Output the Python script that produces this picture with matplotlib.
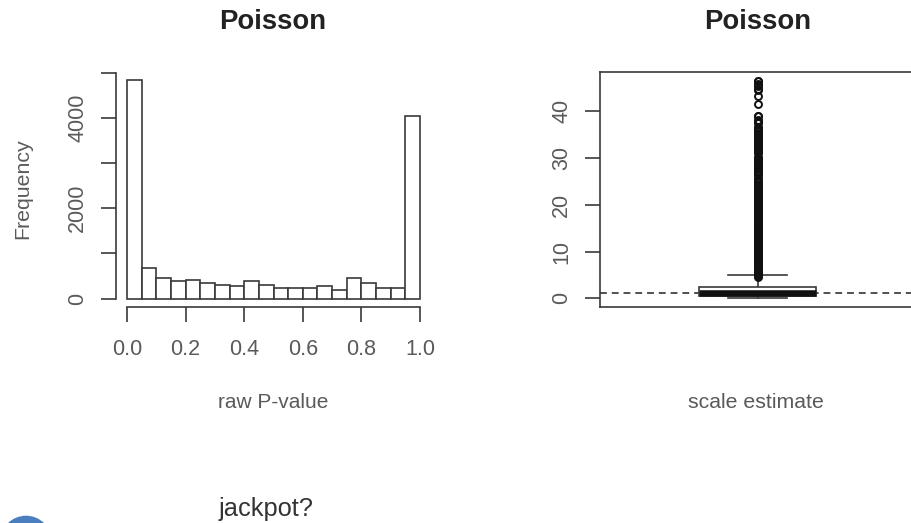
import matplotlib
matplotlib.use("Agg")
import matplotlib.pyplot as plt
from matplotlib.patches import Circle, Rectangle

plt.rcParams['font.family'] = ['Liberation Sans', 'DejaVu Sans']

W, H = 911, 523

# histogram of raw p-values
bin_edges = [0.0, 0.05, 0.1, 0.15, 0.2, 0.25, 0.3, 0.35, 0.4, 0.45, 0.5,
             0.55, 0.6, 0.65, 0.7, 0.75, 0.8, 0.85, 0.9, 0.95, 1.0]
counts = [4834, 687, 458, 377, 414, 340, 303, 266, 377, 303,
          222, 222, 222, 266, 192, 458, 340, 222, 222, 4035]
hist_yticks = [0, 1000, 2000, 3000, 4000, 5000]
hist_ylabels = ['0', '', '2000', '', '4000', '']
hist_xticks = [0.0, 0.2, 0.4, 0.6, 0.8, 1.0]

# scale estimate box plot
box_q1 = 0.5
box_median = 1.2
box_q3 = 2.5
whisker_low = 0.0
whisker_high = 5.0
ref_line = 1.07
outliers = [4.55, 4.8, 5.0, 5.3, 5.5, 5.8, 6.0, 6.3, 6.5, 6.8, 7.0, 7.3, 7.5, 7.8,
            8.0, 8.3, 8.5, 8.8, 9.0, 9.3, 9.5, 9.8, 10.0, 10.3, 10.5, 10.8, 11.0,
            11.3, 11.5, 11.8, 12.0, 12.3, 12.5, 12.8, 13.0, 13.3, 13.5, 13.8, 14.0,
            14.3, 14.5, 14.8, 15.0, 15.3, 15.5, 15.8, 16.0, 16.3, 16.5, 16.8, 17.0,
            17.3, 17.5, 17.8, 18.0, 18.3, 18.5, 18.8, 19.0, 19.3, 19.5, 19.8, 20.0,
            20.3, 20.5, 20.8, 21.0, 21.3, 21.5, 21.8, 22.0, 22.3, 22.5, 22.8, 23.0,
            23.3, 23.5, 23.8, 24.0, 24.3, 24.5, 24.8, 25.0, 25.3, 25.7,
            26.4, 26.6, 26.8, 27.1, 27.3, 27.6, 27.8, 28.1, 28.3, 28.6, 28.8, 29.1,
            29.3, 29.6, 29.8, 30.0, 30.3,
            31.05, 31.4, 31.7, 31.9, 32.2, 32.4, 32.7, 32.9, 33.2, 33.4, 33.7, 33.9,
            34.2, 34.4, 34.7, 34.9, 35.2, 35.4, 35.7, 35.9, 36.2, 36.5, 36.7,
            37.5, 37.7, 38.0, 38.2, 38.9, 39.0,
            41.5, 43.3, 44.6, 44.8, 45.5, 45.6, 45.8, 46.5, 46.55]
box_yticks = [0, 10, 20, 30, 40]

grey = '#5a5a5a'
line = '#3a3a3a'


def place(x0, y0, x1, y1):
    # pixel box (top-left origin) to figure fractions
    return fig.add_axes([x0 / W, 1 - y1 / H, (x1 - x0) / W, (y1 - y0) / H])


fig = plt.figure(figsize=(W / 100, H / 100), dpi=100)

# left panel
ax = place(127, 72.9, 420, 298.5)
ax.set_xlim(0, 1)
ax.set_ylim(0, 5000)
ax.bar(bin_edges[:-1], counts, width=0.05, align='edge', fc='white', ec=line, lw=1.2, clip_on=False)
ax.patch.set_visible(False)
for s in ['top', 'right']:
    ax.spines[s].set_visible(False)
ax.spines['left'].set_position(('outward', 7.9))
ax.spines['bottom'].set_position(('outward', 5.9))
for s in ['left', 'bottom']:
    ax.spines[s].set_color(line)
    ax.spines[s].set_linewidth(1.2)
ax.set_yticks(hist_yticks)
ax.set_yticklabels(hist_ylabels, rotation=90, va='center', fontsize=15.5, color=grey)
ax.set_xticks(hist_xticks)
ax.set_xticklabels(['%.1f' % t for t in hist_xticks], fontsize=15.5, color=grey)
ax.tick_params(axis='y', length=11, width=1.2, color=line, pad=9)
ax.tick_params(axis='x', length=11, width=1.2, color=line, pad=12)
fig.text(219 / W, 1 - 22 / H, 'Poisson', fontsize=19.8, fontweight='bold', color='#222222', va='center', ha='left')
fig.text(23 / W, 1 - 189 / H, 'Frequency', rotation=90, fontsize=15.3, color=grey, ha='center', va='center')
fig.text(273 / W, 1 - 403 / H, 'raw P-value', fontsize=15, color=grey, ha='center', va='center')

# right panel, runs past the edge of the picture
ax2 = place(600, 72.3, 915, 307)
ax2.set_xlim(0, 1)
ax2.set_ylim((298.3 - 307) / 4.675, (298.3 - 72.3) / 4.675)
ax2.axhline(ref_line, color='#222222', lw=1.1, dashes=(4.5, 3.2))
cx, half_box, half_cap = 0.5, 0.187, 0.094
ax2.plot([cx, cx], [whisker_low, box_q1], color=line, lw=1.2)
ax2.plot([cx - half_cap, cx + half_cap], [whisker_low, whisker_low], color=line, lw=1.2)
ax2.plot([cx, cx], [box_q3, whisker_high], color=line, lw=1.2)
ax2.plot([cx - half_cap, cx + half_cap], [whisker_high, whisker_high], color=line, lw=1.2)
ax2.add_patch(Rectangle((cx - half_box, box_q1), 2 * half_box, box_q3 - box_q1, fc='white', ec=line, lw=1.2, zorder=3))
ax2.plot([cx - half_box, cx + half_box], [box_median, box_median], color='#111111', lw=4.7, solid_capstyle='butt', zorder=4)
ax2.plot([cx] * len(outliers), outliers, 'o', ms=5.0, mfc='none', mec='#111111', mew=1.4, zorder=3)
for s in ax2.spines.values():
    s.set_color(line)
    s.set_linewidth(1.2)
ax2.set_xticks([])
ax2.set_yticks(box_yticks)
ax2.set_yticklabels([str(t) for t in box_yticks], rotation=90, va='center', fontsize=15.5, color=grey)
ax2.tick_params(axis='y', length=11, width=1.2, color=line, pad=9)
fig.text(704 / W, 1 - 22 / H, 'Poisson', fontsize=19.8, fontweight='bold', color='#222222', va='center', ha='left')
fig.text(756 / W, 1 - 403 / H, 'scale estimate', fontsize=15.3, color=grey, ha='center', va='center')

# bottom of the page
fig.text(219 / W, 1 - 509 / H, 'jackpot?', fontsize=18.3, color='#333333', va='center', ha='left')
bg = fig.add_axes([0, 0, 1, 1], zorder=-1)
bg.set_xlim(0, W)
bg.set_ylim(H, 0)
bg.axis('off')
bg.add_patch(Circle((26, 541.5), 25.8, fc='#4a7fbf', ec='none'))

fig.savefig('out.png', dpi=100)
